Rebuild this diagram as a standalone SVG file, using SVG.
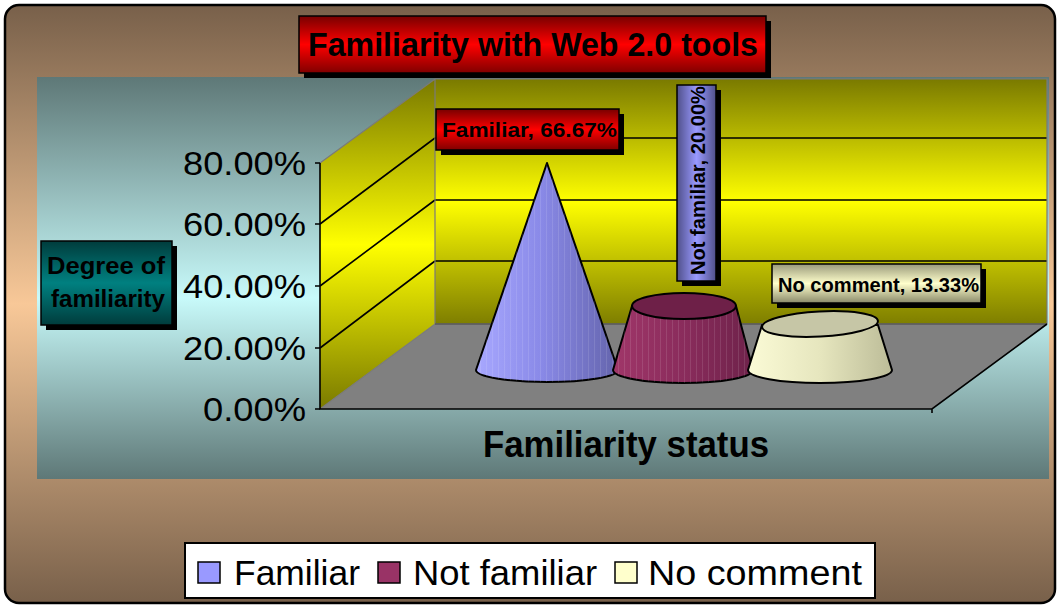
<svg xmlns="http://www.w3.org/2000/svg" width="1057" height="605" viewBox="0 0 1057 605">
  <defs>
    <linearGradient id="frameFill" x1="0" y1="0" x2="0" y2="1">
      <stop offset="0" stop-color="#78604a"/>
      <stop offset="0.5" stop-color="#f8c898"/>
      <stop offset="1" stop-color="#78604a"/>
    </linearGradient>
    <linearGradient id="plotFill" x1="0" y1="0" x2="0" y2="1">
      <stop offset="0" stop-color="#5e7877"/>
      <stop offset="0.55" stop-color="#c8fafa"/>
      <stop offset="1" stop-color="#5e7877"/>
    </linearGradient>
    <linearGradient id="wallFill" x1="0" y1="0" x2="0" y2="1">
      <stop offset="0" stop-color="#7a7a00"/>
      <stop offset="0.5" stop-color="#ffff00"/>
      <stop offset="1" stop-color="#7e7e00"/>
    </linearGradient>
    <linearGradient id="sideWallFill" gradientUnits="userSpaceOnUse" x1="0" y1="80" x2="0" y2="409">
      <stop offset="0" stop-color="#7a7a00"/>
      <stop offset="0.5" stop-color="#ffff00"/>
      <stop offset="1" stop-color="#7a7a00"/>
    </linearGradient>
    <linearGradient id="redBox" x1="0" y1="0" x2="0" y2="1">
      <stop offset="0" stop-color="#780000"/>
      <stop offset="0.5" stop-color="#ff0000"/>
      <stop offset="1" stop-color="#800000"/>
    </linearGradient>
    <linearGradient id="tealBox" x1="0" y1="0" x2="0" y2="1">
      <stop offset="0" stop-color="#003c3c"/>
      <stop offset="0.5" stop-color="#008080"/>
      <stop offset="1" stop-color="#003c3c"/>
    </linearGradient>
    <linearGradient id="blueBox" x1="0" y1="0" x2="1" y2="0">
      <stop offset="0" stop-color="#50508a"/>
      <stop offset="0.5" stop-color="#9999ff"/>
      <stop offset="1" stop-color="#50508a"/>
    </linearGradient>
    <linearGradient id="creamBox" x1="0" y1="0" x2="0" y2="1">
      <stop offset="0" stop-color="#9a9a7a"/>
      <stop offset="0.5" stop-color="#ffffcc"/>
      <stop offset="1" stop-color="#8a8a6a"/>
    </linearGradient>
    <linearGradient id="coneBlue" x1="0" y1="0" x2="1" y2="0">
      <stop offset="0" stop-color="#a8a8ff"/>
      <stop offset="0.45" stop-color="#8a8ae8"/>
      <stop offset="1" stop-color="#6464ac"/>
    </linearGradient>
    <linearGradient id="coneWine" x1="0" y1="0" x2="1" y2="0">
      <stop offset="0" stop-color="#a03669"/>
      <stop offset="0.5" stop-color="#8a2c5c"/>
      <stop offset="1" stop-color="#6e224a"/>
    </linearGradient>
    <linearGradient id="coneCream" x1="0" y1="0" x2="1" y2="0">
      <stop offset="0" stop-color="#fbfbd6"/>
      <stop offset="0.5" stop-color="#e6e6be"/>
      <stop offset="1" stop-color="#bcbc98"/>
    </linearGradient>
    <pattern id="facets" width="6" height="10" patternUnits="userSpaceOnUse">
      <line x1="0.5" y1="0" x2="0.5" y2="10" stroke="#ffffff" stroke-opacity="0.18" stroke-width="1"/>
    </pattern>
  </defs>

  <style>
    text { font-family: "Liberation Sans", Arial, sans-serif; fill: #000; }
    .bold { font-weight: bold; }
    .axis { font-size: 34px; text-anchor: end; }
    .legend { font-size: 35px; }
    .shadow { fill: #000; }
    .box { stroke: #000; stroke-width: 1.5; }
    .grid { stroke: #000; stroke-width: 1.6; fill: none; }
    .edge { stroke: #7a7a7a; stroke-width: 1.2; fill: none; }
    .solid { stroke: #000; stroke-width: 2; stroke-linejoin: round; }
  </style>

  <!-- outer chart frame -->
  <rect id="frame" x="5" y="5" width="1050" height="598" rx="14" fill="url(#frameFill)" stroke="#000" stroke-width="2.5"/>

  <!-- plot area -->
  <rect id="plot-area" x="37" y="77" width="1012" height="402" fill="url(#plotFill)"/>

  <!-- 3D walls and floor -->
  <g id="walls">
    <polygon points="435,79 1047,79 1047,324 435,324" fill="url(#wallFill)"/>
    <polygon points="320,163 435,79 435,324 320,409" fill="url(#sideWallFill)"/>
    <polygon points="320,409 435,324 1047,324 932,409" fill="#808080"/>
    <!-- grid lines -->
    <path class="grid" d="M435,138 H1047 M435,200 H1047 M435,261 H1047"/>
    <path class="grid" d="M320,224 L435,138 M320,286 L435,200 M320,348 L435,261"/>
    <!-- wall borders -->
    <path class="edge" d="M320,163 L435,79 H1047 V324 M435,79 V324 M320,409 L435,324 H1047"/>
    <path d="M435,324 H1047" stroke="#5a5a5a" stroke-width="1.5"/>
    <!-- axes -->
    <path class="grid" d="M320,163 V409 H932 L1047,324 M932,409 V413"/>
    <path class="grid" d="M315,163 H320 M315,224 H320 M315,286 H320 M315,348 H320 M315,409 H320"/>
  </g>

  <!-- value axis labels -->
  <g id="value-axis">
    <text class="axis" x="306" y="175" textLength="123" lengthAdjust="spacingAndGlyphs">80.00%</text>
    <text class="axis" x="306" y="236" textLength="123" lengthAdjust="spacingAndGlyphs">60.00%</text>
    <text class="axis" x="306" y="298" textLength="123" lengthAdjust="spacingAndGlyphs">40.00%</text>
    <text class="axis" x="306" y="360" textLength="123" lengthAdjust="spacingAndGlyphs">20.00%</text>
    <text class="axis" x="306" y="421" textLength="103" lengthAdjust="spacingAndGlyphs">0.00%</text>
  </g>

  <!-- series: Familiar (cone) -->
  <g id="series-familiar">
    <path class="solid" d="M476,370 L547,163 L618,370 A71 12 0 0 1 476,370 Z" fill="url(#coneBlue)"/>
    <path d="M476,370 L547,163 L618,370 A71 12 0 0 1 476,370 Z" fill="url(#facets)" opacity="0.6"/>
  </g>

  <!-- series: Not familiar (truncated cone) -->
  <g id="series-not-familiar">
    <path class="solid" d="M613,370 L632,306 L736,306 L753,370 A70 13 0 0 1 613,370 Z" fill="url(#coneWine)"/>
    <path d="M613,370 L632,306 L736,306 L753,370 A70 13 0 0 1 613,370 Z" fill="url(#facets)" opacity="0.6"/>
    <ellipse class="solid" cx="684" cy="306" rx="52" ry="13" fill="#6e2048"/>
  </g>

  <!-- series: No comment (truncated cone) -->
  <g id="series-no-comment">
    <path class="solid" d="M748,370 L762,325 L878,325 L892,370 A72 13 0 0 1 748,370 Z" fill="url(#coneCream)"/>
    <ellipse class="solid" cx="820" cy="324" rx="58" ry="12.5" fill="#c6c6a6" transform="rotate(-3 820 324)"/>
  </g>

  <!-- data labels -->
  <g id="label-familiar">
    <rect class="shadow" x="441" y="114" width="183" height="41"/>
    <rect class="box" x="436" y="109" width="183" height="41" fill="url(#redBox)"/>
    <text class="bold" x="529.5" y="137" font-size="21" text-anchor="middle" textLength="175" lengthAdjust="spacingAndGlyphs">Familiar, 66.67%</text>
  </g>
  <g id="label-not-familiar">
    <rect class="shadow" x="682" y="90" width="39" height="196"/>
    <rect class="box" x="677" y="85" width="39" height="196" fill="url(#blueBox)"/>
    <text class="bold" transform="translate(705,180.5) rotate(-90)" x="0" y="0" font-size="20" text-anchor="middle" textLength="189" lengthAdjust="spacingAndGlyphs">Not familiar, 20.00%</text>
  </g>
  <g id="label-no-comment">
    <rect class="shadow" x="777" y="269" width="209" height="39"/>
    <rect class="box" x="772" y="264" width="209" height="39" fill="url(#creamBox)"/>
    <text class="bold" x="878.5" y="292" font-size="20" text-anchor="middle" textLength="201" lengthAdjust="spacingAndGlyphs">No comment, 13.33%</text>
  </g>

  <!-- chart title -->
  <g id="chart-title">
    <rect class="shadow" x="304" y="21" width="467" height="57"/>
    <rect class="box" x="299" y="16" width="467" height="57" fill="url(#redBox)"/>
    <text class="bold" x="533" y="56" font-size="33" text-anchor="middle" textLength="450" lengthAdjust="spacingAndGlyphs">Familiarity with Web 2.0 tools</text>
  </g>

  <!-- value axis title -->
  <g id="value-axis-title">
    <rect class="shadow" x="46" y="246" width="131" height="84"/>
    <rect class="box" x="41" y="241" width="131" height="84" fill="url(#tealBox)"/>
    <text class="bold" x="106" y="274" font-size="23" text-anchor="middle" textLength="118" lengthAdjust="spacingAndGlyphs">Degree of</text>
    <text class="bold" x="108" y="307" font-size="23" text-anchor="middle" textLength="114" lengthAdjust="spacingAndGlyphs">familiarity</text>
  </g>

  <!-- category axis title -->
  <g id="category-axis-title">
    <text class="bold" x="626" y="457" font-size="36" text-anchor="middle" textLength="286" lengthAdjust="spacingAndGlyphs">Familiarity status</text>
  </g>

  <!-- legend -->
  <g id="legend">
    <rect x="185" y="543" width="690" height="55" fill="#ffffff" stroke="#000" stroke-width="2"/>
    <rect class="box" x="198" y="562" width="22" height="21" fill="#9999ff"/>
    <text class="legend" x="234" y="585" textLength="126" lengthAdjust="spacingAndGlyphs">Familiar</text>
    <rect class="box" x="378" y="562" width="22" height="21" fill="#993366"/>
    <text class="legend" x="413" y="585" textLength="184" lengthAdjust="spacingAndGlyphs">Not familiar</text>
    <rect class="box" x="615" y="562" width="22" height="21" fill="#ffffcc"/>
    <text class="legend" x="648" y="585" textLength="214" lengthAdjust="spacingAndGlyphs">No comment</text>
  </g>
</svg>
